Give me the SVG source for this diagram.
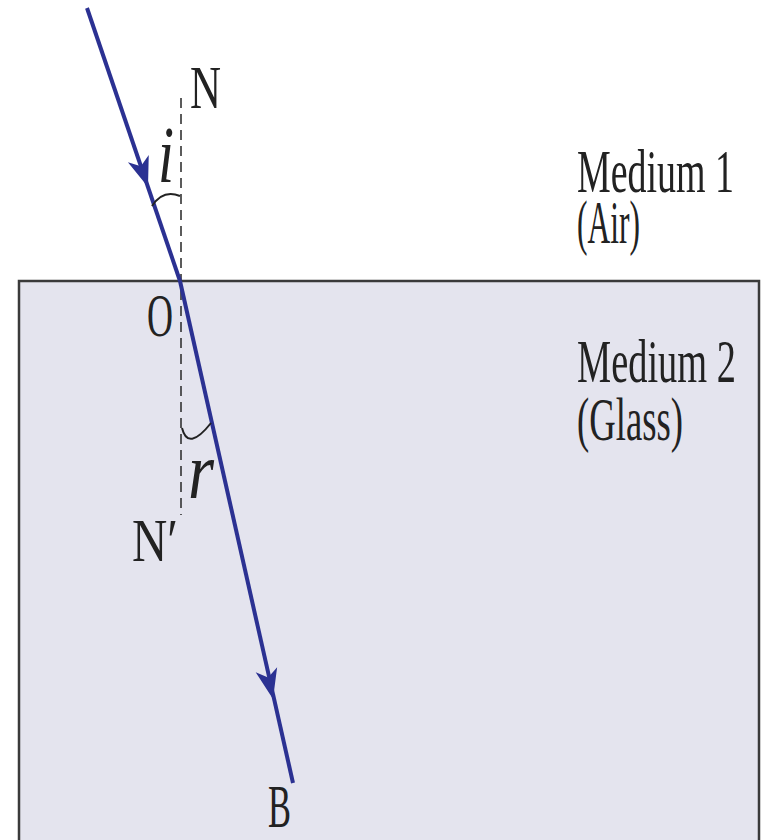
<svg xmlns="http://www.w3.org/2000/svg" width="763" height="840" viewBox="0 0 763 840">
<style>
.lbl{font-family:"Liberation Serif","DejaVu Serif",serif;font-size:62px;fill:#222}
.it{font-family:"Liberation Serif","DejaVu Serif",serif;font-style:italic;font-size:80px;fill:#222}
.ray{stroke:#2b3192;stroke-width:4;fill:none}
.normal{stroke:#333;stroke-width:1.6;stroke-dasharray:10 6;fill:none}
.arc{stroke:#222;stroke-width:2;fill:none}
</style>
<defs>
<path id="head" d="M0,0 L-30,-11 L-22,0 L-30,11 Z" fill="#2b3192"/>
</defs>
<rect x="0" y="0" width="763" height="840" fill="#fff"/>
<g id="glass">
<rect x="19" y="281" width="740" height="570" fill="#e4e4ee" stroke="#3a3a3a" stroke-width="2.5"/>
</g>
<g id="connectors">
<line class="normal" x1="181" y1="98" x2="181" y2="515"/>
<line class="ray" x1="87" y1="8" x2="180" y2="281"/>
<line class="ray" x1="180" y1="281" x2="293" y2="783"/>
<use href="#head" transform="translate(148,187) rotate(71.2)"/>
<use href="#head" transform="translate(273,699) rotate(77.3)"/>
<path class="arc" d="M152,206 Q163,189 180,196"/>
<path class="arc" d="M182,428 Q188,452 211,423"/>
</g>
<g id="labels">
<text class="lbl" x="190" y="108" textLength="31" lengthAdjust="spacingAndGlyphs">N</text>
<text class="it" x="158" y="182" textLength="16" lengthAdjust="spacingAndGlyphs">i</text>
<text class="lbl" x="147" y="336" textLength="26" lengthAdjust="spacingAndGlyphs">O</text>
<text class="it" x="188" y="498" textLength="26" lengthAdjust="spacingAndGlyphs">r</text>
<text class="lbl" x="132" y="561" textLength="46" lengthAdjust="spacingAndGlyphs">N′</text>
<text class="lbl" x="268" y="827" textLength="23" lengthAdjust="spacingAndGlyphs">B</text>
<text class="lbl" x="577" y="192" textLength="157" lengthAdjust="spacingAndGlyphs">Medium 1</text>
<text class="lbl" x="577" y="243" textLength="63" lengthAdjust="spacingAndGlyphs">(Air)</text>
<text class="lbl" x="577" y="382" textLength="159" lengthAdjust="spacingAndGlyphs">Medium 2</text>
<text class="lbl" x="577" y="440" textLength="106" lengthAdjust="spacingAndGlyphs">(Glass)</text>
</g>
</svg>
